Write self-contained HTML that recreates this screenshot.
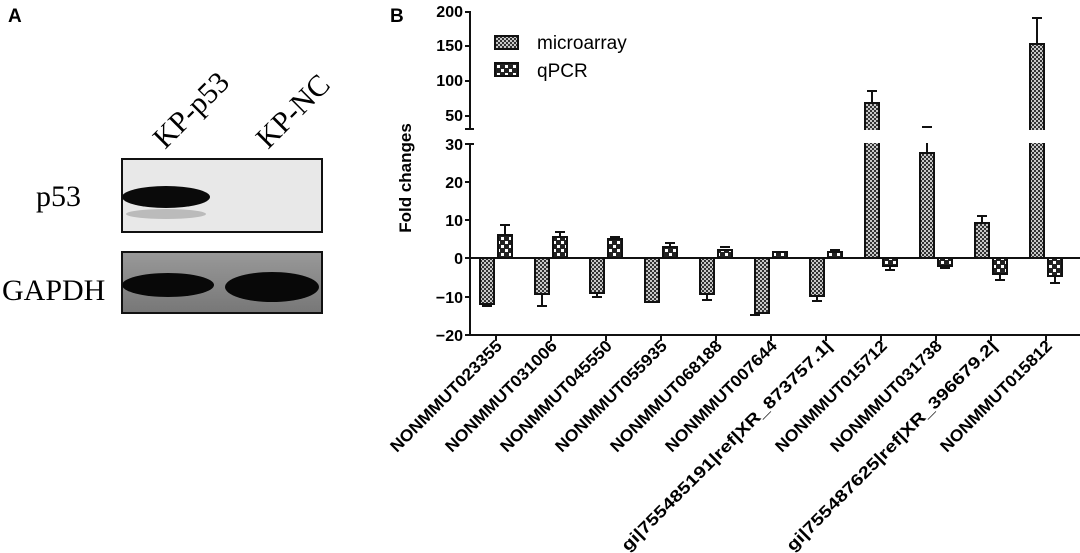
<!DOCTYPE html>
<html><head><meta charset="utf-8"><style>
html,body{margin:0;padding:0;background:#fff;}
svg{display:block;}
</style></head><body>
<svg width="1080" height="553" viewBox="0 0 1080 553" xmlns="http://www.w3.org/2000/svg">
<defs>
<pattern id="pm" width="4" height="4" patternUnits="userSpaceOnUse">
<rect width="4" height="4" fill="#c8c8c8"/><rect width="2" height="2" fill="#333"/><rect x="2" y="2" width="2" height="2" fill="#333"/>
</pattern>
<pattern id="pq" width="8" height="8" patternUnits="userSpaceOnUse">
<rect width="8" height="8" fill="#222"/><rect x="1" y="1" width="3" height="3" fill="#fff"/><rect x="5" y="5" width="3" height="3" fill="#fff"/>
</pattern>
<linearGradient id="g1" x1="0" x2="0" y1="0" y2="1"><stop offset="0" stop-color="#999"/><stop offset="1" stop-color="#777"/></linearGradient>
</defs>
<text x="8" y="22" font-family="Liberation Sans" font-weight="bold" font-size="19">A</text>
<text x="0" y="0" font-family="Liberation Serif" font-size="30" transform="translate(165,150) rotate(-45)">KP-p53</text>
<text x="0" y="0" font-family="Liberation Serif" font-size="30" transform="translate(268,150) rotate(-45)">KP-NC</text>
<text x="36" y="206" font-family="Liberation Serif" font-size="30">p53</text>
<rect x="122" y="159" width="200" height="73" fill="#e8e8e8" stroke="#111" stroke-width="2"/>
<ellipse cx="166" cy="197" rx="44" ry="11" fill="#0a0a0a"/>
<ellipse cx="166" cy="214" rx="40" ry="5" fill="#bbb"/>
<text x="2" y="300" font-family="Liberation Serif" font-size="30">GAPDH</text>
<rect x="122" y="252" width="200" height="61" fill="url(#g1)" stroke="#111" stroke-width="2"/>
<ellipse cx="168" cy="285" rx="46" ry="12" fill="#080808"/>
<ellipse cx="272" cy="287" rx="47" ry="15" fill="#080808"/>
<text x="390" y="22" font-family="Liberation Sans" font-weight="bold" font-size="19">B</text>
<g font-family="Liberation Sans" font-weight="bold" font-size="16" text-anchor="end">
<text x="463" y="17">200</text><text x="463" y="51">150</text><text x="463" y="86">100</text><text x="463" y="121">50</text>
<text x="463" y="150">30</text><text x="463" y="188">20</text><text x="463" y="226">10</text><text x="463" y="264">0</text>
<text x="463" y="303">−10</text><text x="463" y="341">−20</text>
</g>
<text transform="translate(411,178) rotate(-90)" text-anchor="middle" font-family="Liberation Sans" font-weight="bold" font-size="17">Fold changes</text>
<g stroke="#111" stroke-width="2">
<line x1="470" y1="11" x2="470" y2="129"/><line x1="470" y1="143" x2="470" y2="335"/>
<line x1="465" y1="12" x2="470" y2="12"/><line x1="465" y1="46" x2="470" y2="46"/><line x1="465" y1="81" x2="470" y2="81"/><line x1="465" y1="116" x2="470" y2="116"/>
<line x1="465" y1="129" x2="474" y2="129"/><line x1="465" y1="144" x2="474" y2="144"/>
<line x1="465" y1="182" x2="470" y2="182"/><line x1="465" y1="220" x2="470" y2="220"/><line x1="465" y1="258" x2="470" y2="258"/><line x1="465" y1="297" x2="470" y2="297"/>
<line x1="465" y1="335" x2="1080" y2="335"/>
<line x1="470" y1="258" x2="1080" y2="258"/>
</g>
<rect x="495" y="36" width="23" height="13" fill="url(#pm)" stroke="#111" stroke-width="2"/>
<text x="537" y="49" font-family="Liberation Sans" font-size="19">microarray</text>
<rect x="495" y="63" width="23" height="13" fill="url(#pq)" stroke="#111" stroke-width="2"/>
<text x="537" y="77" font-family="Liberation Sans" font-size="19">qPCR</text>
<g stroke="#111" stroke-width="2">
<rect x="480" y="258" width="14" height="46" fill="url(#pm)"/><line x1="487" y1="304" x2="487" y2="306"/><line x1="482" y1="306" x2="492" y2="306"/>
<rect x="535" y="258" width="14" height="36" fill="url(#pm)"/><line x1="542" y1="294" x2="542" y2="306"/><line x1="537" y1="306" x2="547" y2="306"/>
<rect x="590" y="258" width="14" height="35" fill="url(#pm)"/><line x1="597" y1="293" x2="597" y2="297"/><line x1="592" y1="297" x2="602" y2="297"/>
<rect x="645" y="258" width="14" height="44" fill="url(#pm)"/>
<rect x="700" y="258" width="14" height="36" fill="url(#pm)"/><line x1="707" y1="294" x2="707" y2="300"/><line x1="702" y1="300" x2="712" y2="300"/>
<rect x="755" y="258" width="14" height="55" fill="url(#pm)"/><line x1="750" y1="315" x2="760" y2="315"/>
<rect x="810" y="258" width="14" height="38" fill="url(#pm)"/><line x1="817" y1="296" x2="817" y2="301"/><line x1="812" y1="301" x2="822" y2="301"/>
<rect x="865" y="103" width="14" height="155" fill="url(#pm)"/><line x1="872" y1="103" x2="872" y2="91"/><line x1="867" y1="91" x2="877" y2="91"/>
<rect x="920" y="153" width="14" height="105" fill="url(#pm)"/><line x1="927" y1="153" x2="927" y2="143"/><line x1="922" y1="127" x2="932" y2="127"/>
<rect x="975" y="223" width="14" height="35" fill="url(#pm)"/><line x1="982" y1="223" x2="982" y2="216"/><line x1="977" y1="216" x2="987" y2="216"/>
<rect x="1030" y="44" width="14" height="214" fill="url(#pm)"/><line x1="1037" y1="44" x2="1037" y2="18"/><line x1="1032" y1="18" x2="1042" y2="18"/>
<rect x="498" y="235" width="14" height="23" fill="url(#pq)"/><line x1="505" y1="235" x2="505" y2="225"/><line x1="500" y1="225" x2="510" y2="225"/>
<rect x="553" y="237" width="14" height="21" fill="url(#pq)"/><line x1="560" y1="237" x2="560" y2="232"/><line x1="555" y1="232" x2="565" y2="232"/>
<rect x="608" y="239" width="14" height="19" fill="url(#pq)"/><line x1="610" y1="237" x2="620" y2="237"/>
<rect x="663" y="247" width="14" height="11" fill="url(#pq)"/><line x1="670" y1="247" x2="670" y2="243"/><line x1="665" y1="243" x2="675" y2="243"/>
<rect x="718" y="250" width="14" height="8" fill="url(#pq)"/><line x1="720" y1="247" x2="730" y2="247"/>
<rect x="773" y="252" width="14" height="6" fill="url(#pq)"/>
<rect x="828" y="252" width="14" height="6" fill="url(#pq)"/><line x1="830" y1="250" x2="840" y2="250"/>
<rect x="883" y="258" width="14" height="8" fill="url(#pq)"/><line x1="890" y1="266" x2="890" y2="270"/><line x1="885" y1="270" x2="895" y2="270"/>
<rect x="938" y="258" width="14" height="8" fill="url(#pq)"/><line x1="940" y1="268" x2="950" y2="268"/>
<rect x="993" y="258" width="14" height="16" fill="url(#pq)"/><line x1="1000" y1="274" x2="1000" y2="280"/><line x1="995" y1="280" x2="1005" y2="280"/>
<rect x="1048" y="258" width="14" height="18" fill="url(#pq)"/><line x1="1055" y1="276" x2="1055" y2="283"/><line x1="1050" y1="283" x2="1060" y2="283"/>
</g>
<rect x="860" y="130" width="190" height="13" fill="#fff"/>
<g stroke="#111" stroke-width="2">
<line x1="496" y1="335" x2="496" y2="341"/><line x1="551" y1="335" x2="551" y2="341"/><line x1="606" y1="335" x2="606" y2="341"/><line x1="661" y1="335" x2="661" y2="341"/><line x1="716" y1="335" x2="716" y2="341"/><line x1="771" y1="335" x2="771" y2="341"/><line x1="826" y1="335" x2="826" y2="341"/><line x1="881" y1="335" x2="881" y2="341"/><line x1="936" y1="335" x2="936" y2="341"/><line x1="991" y1="335" x2="991" y2="341"/><line x1="1046" y1="335" x2="1046" y2="341"/>
</g>
<g font-family="Liberation Sans" font-weight="bold" font-size="16.5" text-anchor="end">
<text transform="translate(503,347) rotate(-45)" textLength="150" lengthAdjust="spacingAndGlyphs">NONMMUT023355</text>
<text transform="translate(558,347) rotate(-45)" textLength="150" lengthAdjust="spacingAndGlyphs">NONMMUT031006</text>
<text transform="translate(613,347) rotate(-45)" textLength="150" lengthAdjust="spacingAndGlyphs">NONMMUT045550</text>
<text transform="translate(668,347) rotate(-45)" textLength="150" lengthAdjust="spacingAndGlyphs">NONMMUT055935</text>
<text transform="translate(723,347) rotate(-45)" textLength="150" lengthAdjust="spacingAndGlyphs">NONMMUT068188</text>
<text transform="translate(778,347) rotate(-45)" textLength="150" lengthAdjust="spacingAndGlyphs">NONMMUT007644</text>
<text transform="translate(833,347) rotate(-45)" textLength="290" lengthAdjust="spacingAndGlyphs">gi|755485191|ref|XR_873757.1|</text>
<text transform="translate(888,347) rotate(-45)" textLength="150" lengthAdjust="spacingAndGlyphs">NONMMUT015712</text>
<text transform="translate(943,347) rotate(-45)" textLength="150" lengthAdjust="spacingAndGlyphs">NONMMUT031738</text>
<text transform="translate(998,347) rotate(-45)" textLength="290" lengthAdjust="spacingAndGlyphs">gi|755487625|ref|XR_396679.2|</text>
<text transform="translate(1053,347) rotate(-45)" textLength="150" lengthAdjust="spacingAndGlyphs">NONMMUT015812</text>
</g>
</svg>
</body></html>
